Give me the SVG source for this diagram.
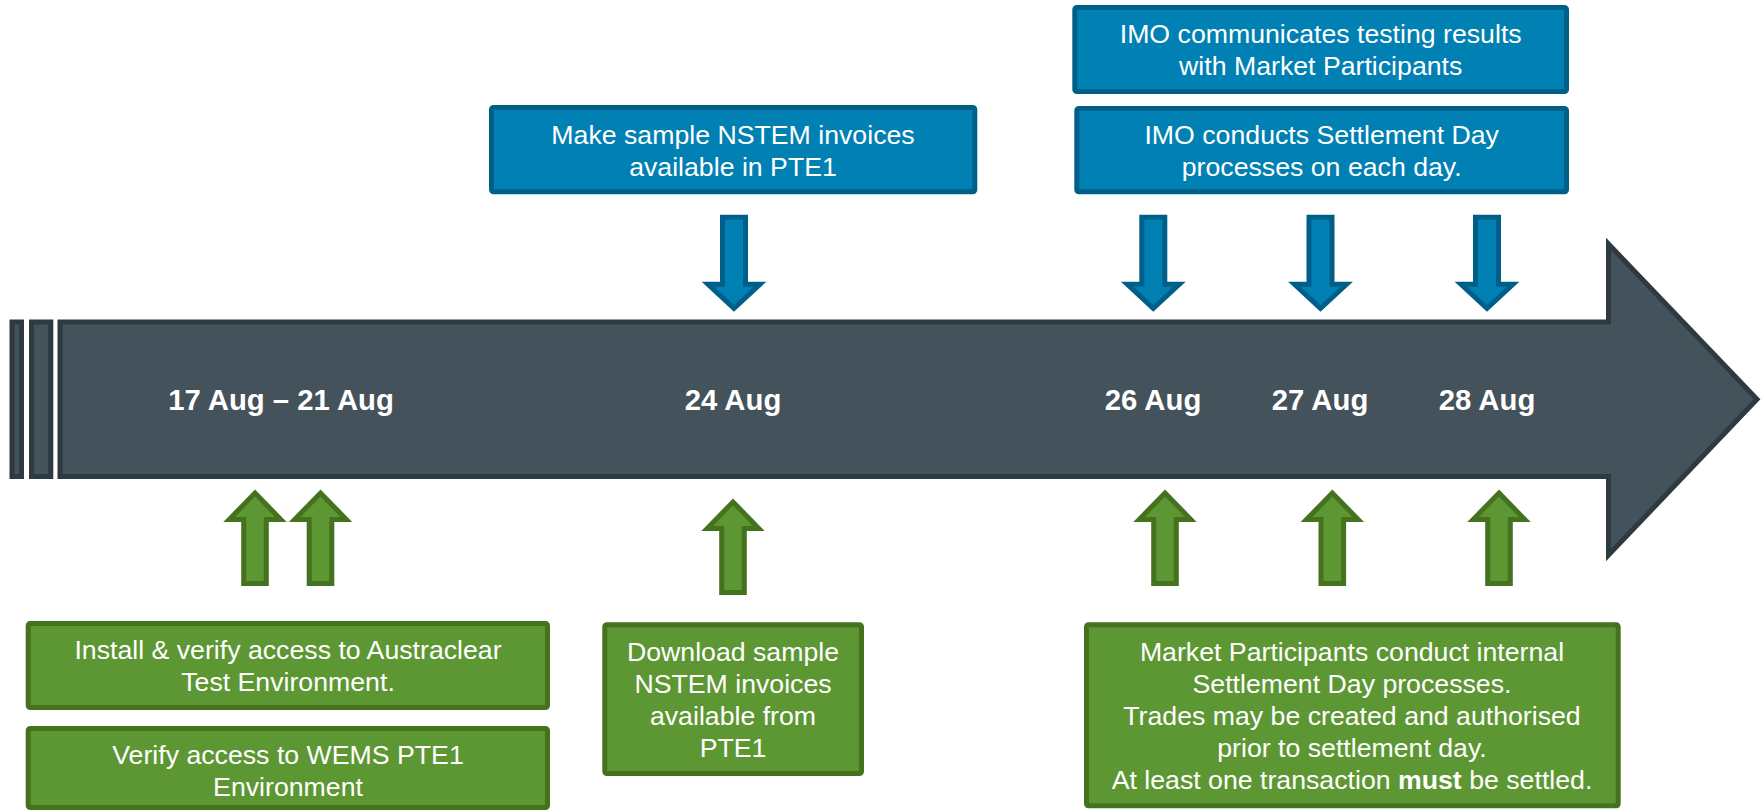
<svg xmlns="http://www.w3.org/2000/svg" xmlns:xlink="http://www.w3.org/1999/xlink" width="1764" height="812" viewBox="0 0 1764 812">
  <style>
    .bar { fill: #44525b; stroke: #2e3a42; stroke-width: 5; stroke-linejoin: miter; }
    .blue { fill: #0180b3; stroke: #005f88; stroke-width: 5; }
    .green { fill: #5d9733; stroke: #45721f; stroke-width: 5; }
    .txt { font-family: "Liberation Sans", Arial, sans-serif; font-size: 26.7px; fill: #ffffff; text-anchor: middle; }
    .date { font-family: "Liberation Sans", Arial, sans-serif; font-size: 29.3px; font-weight: bold; fill: #ffffff; text-anchor: middle; }
  </style>
  <defs>
    <!-- block arrows, tip at the origin -->
    <path id="down" d="M0,0 L-26,-24 H-11.5 V-91 H11.5 V-24 H26 Z"/>
    <path id="up" d="M0,0 L25.8,26.5 H11.3 V90.5 H-11.3 V26.5 H-25.8 Z"/>
  </defs>

  <rect width="1764" height="812" fill="#ffffff"/>

  <!-- timeline -->
  <g id="timeline">
    <rect class="bar" x="12" y="322" width="9.5" height="154.5"/>
    <rect class="bar" x="31.5" y="322" width="19.3" height="154.5"/>
    <path class="bar" d="M60,322 H1608.5 V244 L1757,399.3 L1608.5,555 V476.5 H60 Z"/>
    <text class="date" x="281" y="410">17 Aug – 21 Aug</text>
    <text class="date" x="733" y="410">24 Aug</text>
    <text class="date" x="1153" y="410">26 Aug</text>
    <text class="date" x="1320" y="410">27 Aug</text>
    <text class="date" x="1487" y="410">28 Aug</text>
  </g>

  <!-- connectors -->
  <g id="connectors">
    <use href="#down" class="blue" x="734" y="308.3"/>
    <use href="#down" class="blue" x="1153.3" y="308.3"/>
    <use href="#down" class="blue" x="1320.5" y="308.3"/>
    <use href="#down" class="blue" x="1487" y="308.3"/>
    <use href="#up" class="green" x="255" y="493"/>
    <use href="#up" class="green" x="320.5" y="493"/>
    <use href="#up" class="green" x="733" y="502"/>
    <use href="#up" class="green" x="1165" y="493"/>
    <use href="#up" class="green" x="1332.3" y="493"/>
    <use href="#up" class="green" x="1499" y="493"/>
  </g>

  <!-- IMO tasks -->
  <g id="imo-invoices">
    <rect class="blue" x="491.5" y="107.5" width="483.3" height="84.3" rx="2"/>
    <text class="txt" x="733" y="143.5">Make sample NSTEM invoices</text>
    <text class="txt" x="733" y="175.5">available in PTE1</text>
  </g>
  <g id="imo-results">
    <rect class="blue" x="1074.8" y="7.5" width="491.7" height="84" rx="2"/>
    <text class="txt" x="1320.7" y="43">IMO communicates testing results</text>
    <text class="txt" x="1320.7" y="75">with Market Participants</text>
  </g>
  <g id="imo-settlement">
    <rect class="blue" x="1076.8" y="108.5" width="489.7" height="83.3" rx="2"/>
    <text class="txt" x="1321.7" y="143.5">IMO conducts Settlement Day</text>
    <text class="txt" x="1321.7" y="175.5">processes on each day.</text>
  </g>

  <!-- participant tasks -->
  <g id="mp-austraclear">
    <rect class="green" x="28.2" y="623.5" width="519.3" height="84" rx="2"/>
    <text class="txt" x="288" y="659">Install &amp; verify access to Austraclear</text>
    <text class="txt" x="288" y="691">Test Environment.</text>
  </g>
  <g id="mp-wems">
    <rect class="green" x="28.2" y="728.5" width="519.3" height="79" rx="2"/>
    <text class="txt" x="288" y="763.5">Verify access to WEMS PTE1</text>
    <text class="txt" x="288" y="795.5">Environment</text>
  </g>
  <g id="mp-download">
    <rect class="green" x="604.8" y="624.8" width="256.7" height="148.7" rx="2"/>
    <text class="txt" x="733" y="660.5">Download sample</text>
    <text class="txt" x="733" y="692.5">NSTEM invoices</text>
    <text class="txt" x="733" y="724.5">available from</text>
    <text class="txt" x="733" y="756.5">PTE1</text>
  </g>
  <g id="mp-settlement">
    <rect class="green" x="1086.5" y="624.8" width="531.7" height="181" rx="2"/>
    <text class="txt" x="1352" y="661">Market Participants conduct internal</text>
    <text class="txt" x="1352" y="693">Settlement Day processes.</text>
    <text class="txt" x="1352" y="725">Trades may be created and authorised</text>
    <text class="txt" x="1352" y="757">prior to settlement day.</text>
    <text class="txt" x="1352" y="789">At least one transaction <tspan font-weight="bold">must</tspan> be settled.</text>
  </g>
</svg>
